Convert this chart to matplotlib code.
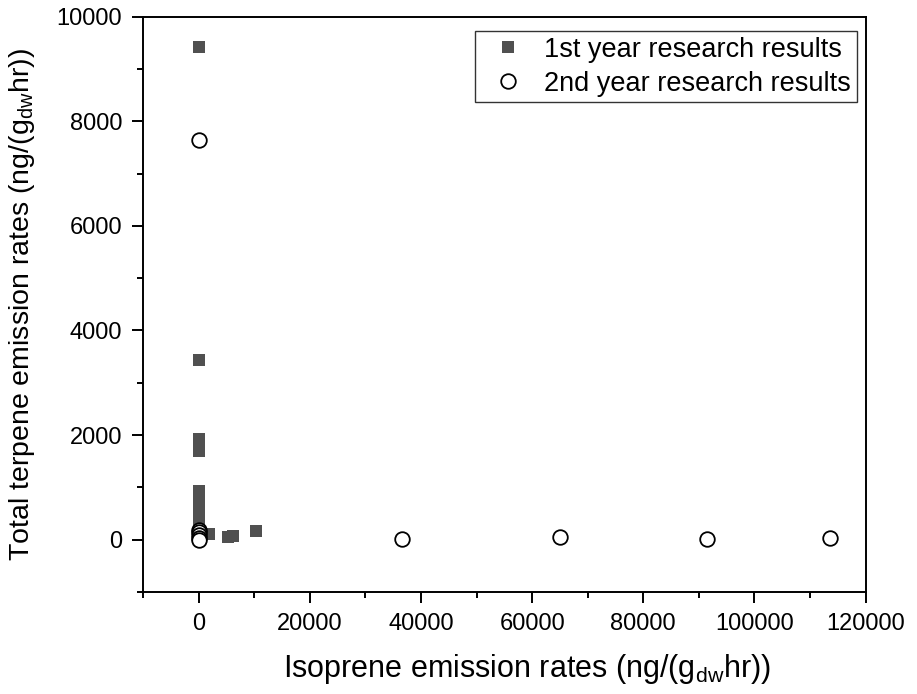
import matplotlib
matplotlib.use('Agg')
import matplotlib.pyplot as plt
from matplotlib.ticker import MultipleLocator

# 1st year research results (isoprene, total terpene)
year1_iso = [0, 0, 0, 0, 0, 0, 0, 0, 0, 0, 0, 0, 0, 0, 1800, 5300, 6200, 10400]
year1_ter = [9420, 3440, 1920, 1800, 1700, 940, 820, 700, 580, 460, 350, 250, 150, 100, 115, 50, 70, 170]

# 2nd year research results
year2_iso = [0, 0, 0, 0, 0, 0, 36500, 65000, 91500, 113500]
year2_ter = [7650, 190, 140, 90, 40, 0, 20, 50, 10, 40]

plt.rcParams['font.family'] = ['Liberation Sans', 'DejaVu Sans']

fig = plt.figure(figsize=(9.17, 6.94), dpi=100)
ax = fig.add_axes([0.156, 0.147, 0.788, 0.829])

ax.plot(year1_iso, year1_ter, 's', color='#505050', markersize=9, markeredgewidth=0,
        label='1st year research results', zorder=2)
ax.plot(year2_iso, year2_ter, 'o', markerfacecolor='white', markeredgecolor='black',
        markersize=10.5, markeredgewidth=1.3, label='2nd year research results', zorder=3)

ax.set_xlim(-10000, 120000)
ax.set_ylim(-1000, 10000)
ax.xaxis.set_major_locator(MultipleLocator(20000))
ax.xaxis.set_minor_locator(MultipleLocator(10000))
ax.yaxis.set_major_locator(MultipleLocator(2000))
ax.yaxis.set_minor_locator(MultipleLocator(1000))
ax.tick_params(which='major', direction='out', length=8, width=1.4, labelsize=17)
ax.tick_params(which='minor', direction='out', length=4, width=1.4)
ax.tick_params(axis='x', pad=7)
ax.tick_params(axis='y', pad=7)

for s in ax.spines.values():
    s.set_linewidth(1.4)

ax.set_xlabel(r'Isoprene emission rates (ng/(g$_\mathregular{dw}$hr))', fontsize=22,
              labelpad=12)
ax.xaxis.set_label_coords(0.532, -0.105)
ax.set_ylabel(r'Total terpene emission rates (ng/(g$_\mathregular{dw}$hr))', fontsize=20.5,
              labelpad=14)

leg = ax.legend(loc='upper right', fontsize=19.5, frameon=True, fancybox=False,
                edgecolor='black', borderpad=0.2, handletextpad=0.35, labelspacing=0.3,
                borderaxespad=0.2, bbox_to_anchor=(0.995, 0.984))
leg.get_frame().set_linewidth(1.0)

fig.savefig('out.png', dpi=100, facecolor='white')
